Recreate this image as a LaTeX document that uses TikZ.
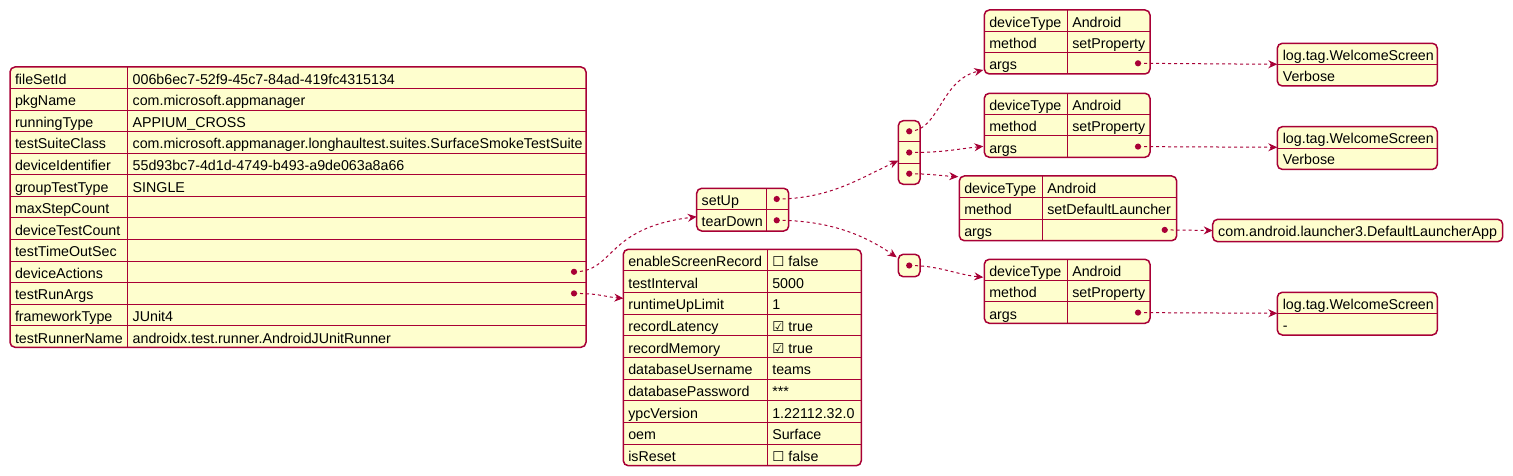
\documentclass[tikz,border=0pt]{standalone}
\usepackage{fontspec}
\setmainfont{Liberation Sans}
\newfontfamily\symfont{DejaVu Sans}
\usetikzlibrary{arrows.meta}
\definecolor{pbord}{HTML}{A80036}
\definecolor{pfill}{HTML}{FEFECE}
\newcommand\unchk{{\symfont\fontsize{13.5}{13.5}\selectfont ☐}}
\newcommand\chk{{\symfont\fontsize{13.5}{13.5}\selectfont ☑}}
\tikzset{
  frame/.style={draw=pbord, fill=pfill, line width=1.5pt, rounded corners=5pt, inner sep=0pt, outer sep=0pt, anchor=north west},
  rule/.style={draw=pbord, line width=1pt},
  txt/.style={anchor=base west, inner sep=0pt, outer sep=0pt, font=\fontsize{14.25}{16}\selectfont, text=black},
  jdot/.style={circle, fill=pbord, inner sep=0pt, minimum size=6.2pt},
  conn/.style={draw=pbord, line width=1pt, dash pattern=on 3pt off 3pt, -{Stealth[length=9pt,width=8pt,inset=3pt]}},
}
% frame with horizontal rules: name, xl, xr, yt, rowh, n
\newcommand\tabframe[6]{%
  \node[frame, minimum width={(#3)-(#2)}, minimum height={(#6)*(#5)}] (#1) at (#2,#4) {};
  \ifnum#6>1
    \pgfmathtruncatemacro\tfnm{#6-1}%
    \foreach \r in {1,...,\tfnm} {\draw[rule] (#2,{#4+\r*#5}) -- (#3,{#4+\r*#5});}
  \fi
}
% key/value table: name, xl, xr, xd, yt, rowh, n, rows
\newcommand\kvtab[8]{%
  \tabframe{#1}{#2}{#3}{#5}{#6}{#7}
  \draw[rule] (#4,#5) -- (#4,{#5+#7*#6});
  \foreach \k/\v [count=\i] in {#8} {
    \node[txt] (#1-k\i) at ({#2+5},{#5+(\i-1)*#6+#6/2+6.5}) {\k};
    \node[txt] (#1-v\i) at ({#4+5},{#5+(\i-1)*#6+#6/2+6.5}) {\v};
  }
}
% single column table: name, xl, xr, yt, rowh, n, rows
\newcommand\ltab[7]{%
  \tabframe{#1}{#2}{#3}{#4}{#5}{#6}
  \foreach \k [count=\i] in {#7} {
    \node[txt] (#1-k\i) at ({#2+5.5},{#4+(\i-1)*#5+#5/2+6.2}) {\k};
  }
}
\begin{document}
\begin{tikzpicture}[x=1pt,y=-1pt]
\useasboundingbox (0,0) rectangle (1513,476);
\fill[white] (0,0) rectangle (1513,476);

% main object
\kvtab{main}{10}{586}{127.7}{67}{21.56}{13}{
  fileSetId/006b6ec7-52f9-45c7-84ad-419fc4315134,
  pkgName/com.microsoft.appmanager,
  runningType/APPIUM\_CROSS,
  testSuiteClass/com.microsoft.appmanager.longhaultest.suites.SurfaceSmokeTestSuite,
  deviceIdentifier/55d93bc7-4d1d-4749-b493-a9de063a8a66,
  groupTestType/SINGLE,
  maxStepCount/{},
  deviceTestCount/{},
  testTimeOutSec/{},
  deviceActions/{},
  testRunArgs/{},
  frameworkType/JUnit4,
  testRunnerName/androidx.test.runner.AndroidJUnitRunner}
\node[jdot] (main-d10) at (574,271.8) {};
\node[jdot] (main-d11) at (574,293.4) {};

% deviceActions
\kvtab{act}{696.7}{788.7}{766.7}{188.3}{21.35}{2}{setUp/{},tearDown/{}}
\node[jdot] (act-d1) at (776.7,199.0) {};
\node[jdot] (act-d2) at (776.7,220.3) {};

% testRunArgs
\kvtab{args}{623.3}{861.3}{767.3}{249.3}{21.64}{10}{
  enableScreenRecord/\unchk{} false,
  testInterval/5000,
  runtimeUpLimit/1,
  recordLatency/\chk{} true,
  recordMemory/\chk{} true,
  databaseUsername/teams,
  databasePassword/***,
  ypcVersion/1.22112.32.0,
  oem/Surface,
  isReset/\unchk{} false}

% arrays
\tabframe{arr1}{898.3}{920}{120.7}{21.2}{3}
\node[jdot] (arr1-d1) at (909.2,131.3) {};
\node[jdot] (arr1-d2) at (909.2,152.5) {};
\node[jdot] (arr1-d3) at (909.2,173.7) {};
\tabframe{arr2}{898.3}{920}{254.3}{22.4}{1}
\node[jdot] (arr2-d) at (909.2,265.5) {};

% action objects
\kvtab{A}{984.3}{1150}{1067.3}{10}{21.33}{3}{deviceType/Android,method/setProperty,args/{}}
\node[jdot] (A-d) at (1138,63.3) {};
\kvtab{B}{984.3}{1150}{1067.3}{93.3}{21.33}{3}{deviceType/Android,method/setProperty,args/{}}
\node[jdot] (B-d) at (1138,146.6) {};
\kvtab{C}{959.3}{1176.7}{1042.3}{176}{21.56}{3}{deviceType/Android,method/setDefaultLauncher,args/{}}
\node[jdot] (C-d) at (1164.7,229.9) {};
\kvtab{D}{984.3}{1150}{1067.3}{259.3}{21.33}{3}{deviceType/Android,method/setProperty,args/{}}
\node[jdot] (D-d) at (1138,312.6) {};

% args arrays
\ltab{L1}{1277.3}{1437.3}{43.3}{21.35}{2}{log.tag.WelcomeScreen,Verbose}
\ltab{L2}{1277.3}{1437.3}{126.7}{21.35}{2}{log.tag.WelcomeScreen,Verbose}
\ltab{Lc}{1212.7}{1502.7}{219.3}{22.4}{1}{com.android.launcher3.DefaultLauncherApp}
\ltab{L4}{1277.3}{1437.3}{292.3}{21.35}{2}{log.tag.WelcomeScreen,-}

% entry points
\coordinate (act-in) at (696.7,216.7);
\coordinate (args-in) at (623.3,298.3);
\coordinate (arr1-in) at (898.3,160.7);
\coordinate (arr2-in) at (896.7,257.3);
\coordinate (A-in) at (983.3,70);
\coordinate (B-in) at (983.3,146.3);
\coordinate (C-in) at (958.3,176.7);
\coordinate (D-in) at (983.3,277.3);
\coordinate (L1-in) at (1277.3,64.3);
\coordinate (L2-in) at (1277.3,147.3);
\coordinate (Lc-in) at (1212.7,230.5);
\coordinate (L4-in) at (1277.3,313.3);

% connectors
\draw[conn] (main-d10.center) .. controls +(41,0) and +(-92,11.3) .. (act-in);
\draw[conn] (main-d11.center) .. controls +(26,0) and +(-18,-1.3) .. (args-in);
\draw[conn] (act-d1.center) .. controls +(53,0) and +(-38,17.3) .. (arr1-in);
\draw[conn] (act-d2.center) .. controls +(53,0) and +(-32,-22) .. (arr2-in);
\draw[conn] (arr1-d1.center) .. controls +(30,0) and +(-43,10) .. (A-in);
\draw[conn] (arr1-d2.center) .. controls +(35,0) and +(-28,3) .. (B-in);
\draw[conn] (arr1-d3.center) .. controls +(20,0) and +(-18,-1) .. (C-in);
\draw[conn] (arr2-d.center) .. controls +(30,0) and +(-28,-3) .. (D-in);
\draw[conn] (A-d.center) -- (L1-in);
\draw[conn] (B-d.center) -- (L2-in);
\draw[conn] (C-d.center) -- (Lc-in);
\draw[conn] (D-d.center) -- (L4-in);
\end{tikzpicture}
\end{document}
